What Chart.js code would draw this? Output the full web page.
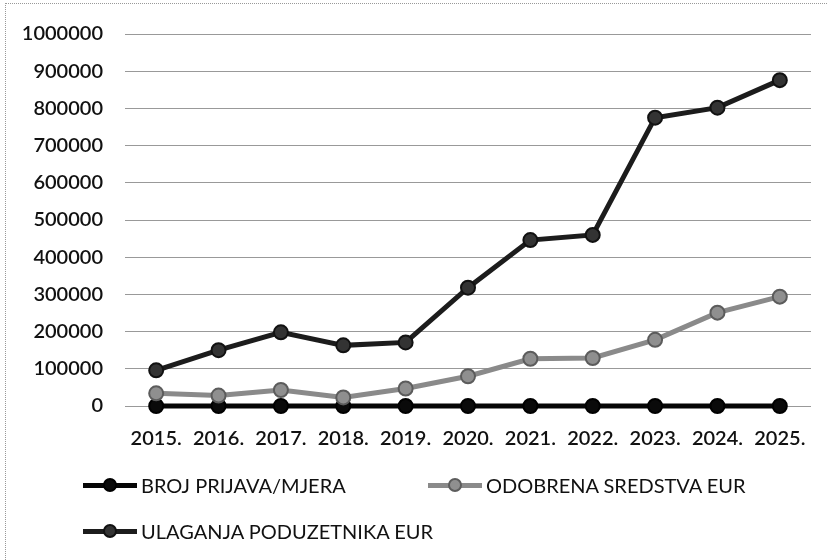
<!DOCTYPE html>
<html>
<head>
<meta charset="utf-8">
<script src="https://cdn.jsdelivr.net/npm/chart.js@4.4.1/dist/chart.umd.min.js"></script>
<style>
    html, body { margin: 0; padding: 0; background: #fff; }
    #wrap {
        position: relative;
        width: 827px;
        height: 560px;
        font-family: Lato, "Open Sans", sans-serif;
    }
    #frame {
        position: absolute;
        left: 5px; top: 3px; right: 0; bottom: 0;
        border-left: 1px dotted #999;
        border-top: 1px dotted #999;
        pointer-events: none;
    }
    #legend { position: absolute; left: 0; top: 0; width: 827px; height: 560px; pointer-events: none; }
    .item {
        position: absolute;
        display: flex;
        align-items: center;
        font-size: 20px;
        color: #111;
        white-space: nowrap;
    }
    .marker { position: relative; width: 54px; height: 14px; margin-right: 4px; }
    .marker .ln { position: absolute; left: 0; right: 0; top: 5px; height: 5px; }
    .marker .dot { position: absolute; left: 20px; top: 0; width: 14px; height: 14px; border-radius: 50%; box-sizing: border-box; border: 2px solid; }
</style>
</head>
<body>
<div id="wrap">
    <canvas id="lineChart" width="827" height="560"></canvas>
    <div id="legend"></div>
    <div id="frame"></div>
</div>
<script>
// Chart data
const years = ['2015.', '2016.', '2017.', '2018.', '2019.', '2020.', '2021.', '2022.', '2023.', '2024.', '2025.'];
const brojPrijava = [12, 14, 16, 13, 15, 19, 24, 22, 28, 27, 31];
const odobrenaSredstva = [34000, 28000, 43000, 23000, 47000, 80000, 127000, 129000, 178000, 251000, 294000];
const ulaganjaPoduzetnika = [96000, 150000, 198000, 163000, 171000, 318000, 446000, 460000, 775000, 802000, 876000];
const seriesNames = ['BROJ PRIJAVA/MJERA', 'ODOBRENA SREDSTVA EUR', 'ULAGANJA PODUZETNIKA EUR'];

const seriesStyle = [
    { line: '#050505', fill: '#0a0a0a', border: '#000000' },
    { line: '#8a8a8a', fill: '#8f8f8f', border: '#5c5c5c' },
    { line: '#1c1c1c', fill: '#333333', border: '#111111' }
];

// Legend positions (Excel style two column layout)
const legendPos = [
    { left: 83, top: 473 },
    { left: 428, top: 473 },
    { left: 83, top: 519 }
];

function makeDataset(i, values) {
    return {
        label: seriesNames[i],
        data: values,
        borderColor: seriesStyle[i].line,
        backgroundColor: seriesStyle[i].fill,
        pointBackgroundColor: seriesStyle[i].fill,
        pointBorderColor: seriesStyle[i].border,
        pointBorderWidth: 2,
        pointRadius: 7,
        borderWidth: 5,
        tension: 0,
        clip: false
    };
}

document.addEventListener('DOMContentLoaded', function() {
    initializeChart();
    buildLegend();
});

function initializeChart() {
    const ctx = document.getElementById('lineChart').getContext('2d');
    new Chart(ctx, {
        type: 'line',
        data: {
            labels: years,
            // draw order: big series first so the zero line stays on top
            datasets: [
                makeDataset(2, ulaganjaPoduzetnika),
                makeDataset(1, odobrenaSredstva),
                makeDataset(0, brojPrijava)
            ]
        },
        options: {
            responsive: false,
            animation: false,
            layout: { padding: { top: 32, left: 0, right: 16, bottom: 114 } },
            plugins: {
                legend: { display: false },
                tooltip: { enabled: false }
            },
            scales: {
                x: {
                    offset: true,
                    grid: { display: false },
                    border: { display: false },
                    ticks: {
                        color: '#111',
                        font: { family: 'Lato', size: 20, weight: '600' },
                        padding: 13,
                        maxRotation: 0
                    },
                    afterFit: function(scale) { scale.height = 40; }
                },
                y: {
                    min: 0,
                    max: 1000000,
                    grid: {
                        color: '#999999',
                        lineWidth: 1,
                        drawTicks: false
                    },
                    border: { display: false },
                    ticks: {
                        stepSize: 100000,
                        color: '#111',
                        font: { family: 'Lato', size: 20, weight: '600' },
                        padding: 22,
                        callback: function(value) { return String(value); }
                    },
                    afterFit: function(scale) { scale.width = 125; }
                }
            }
        }
    });
}

function buildLegend() {
    const legend = document.getElementById('legend');
    seriesNames.forEach((name, i) => {
        const item = document.createElement('div');
        item.className = 'item';
        item.style.left = legendPos[i].left + 'px';
        item.style.top = legendPos[i].top + 'px';
        item.innerHTML =
            '<span class="marker"><span class="ln" style="background:' + seriesStyle[i].line + '"></span>' +
            '<span class="dot" style="background:' + seriesStyle[i].fill + ';border-color:' + seriesStyle[i].border + '"></span></span>' +
            '<span>' + name + '</span>';
        legend.appendChild(item);
    });
}
</script>
</body>
</html>
